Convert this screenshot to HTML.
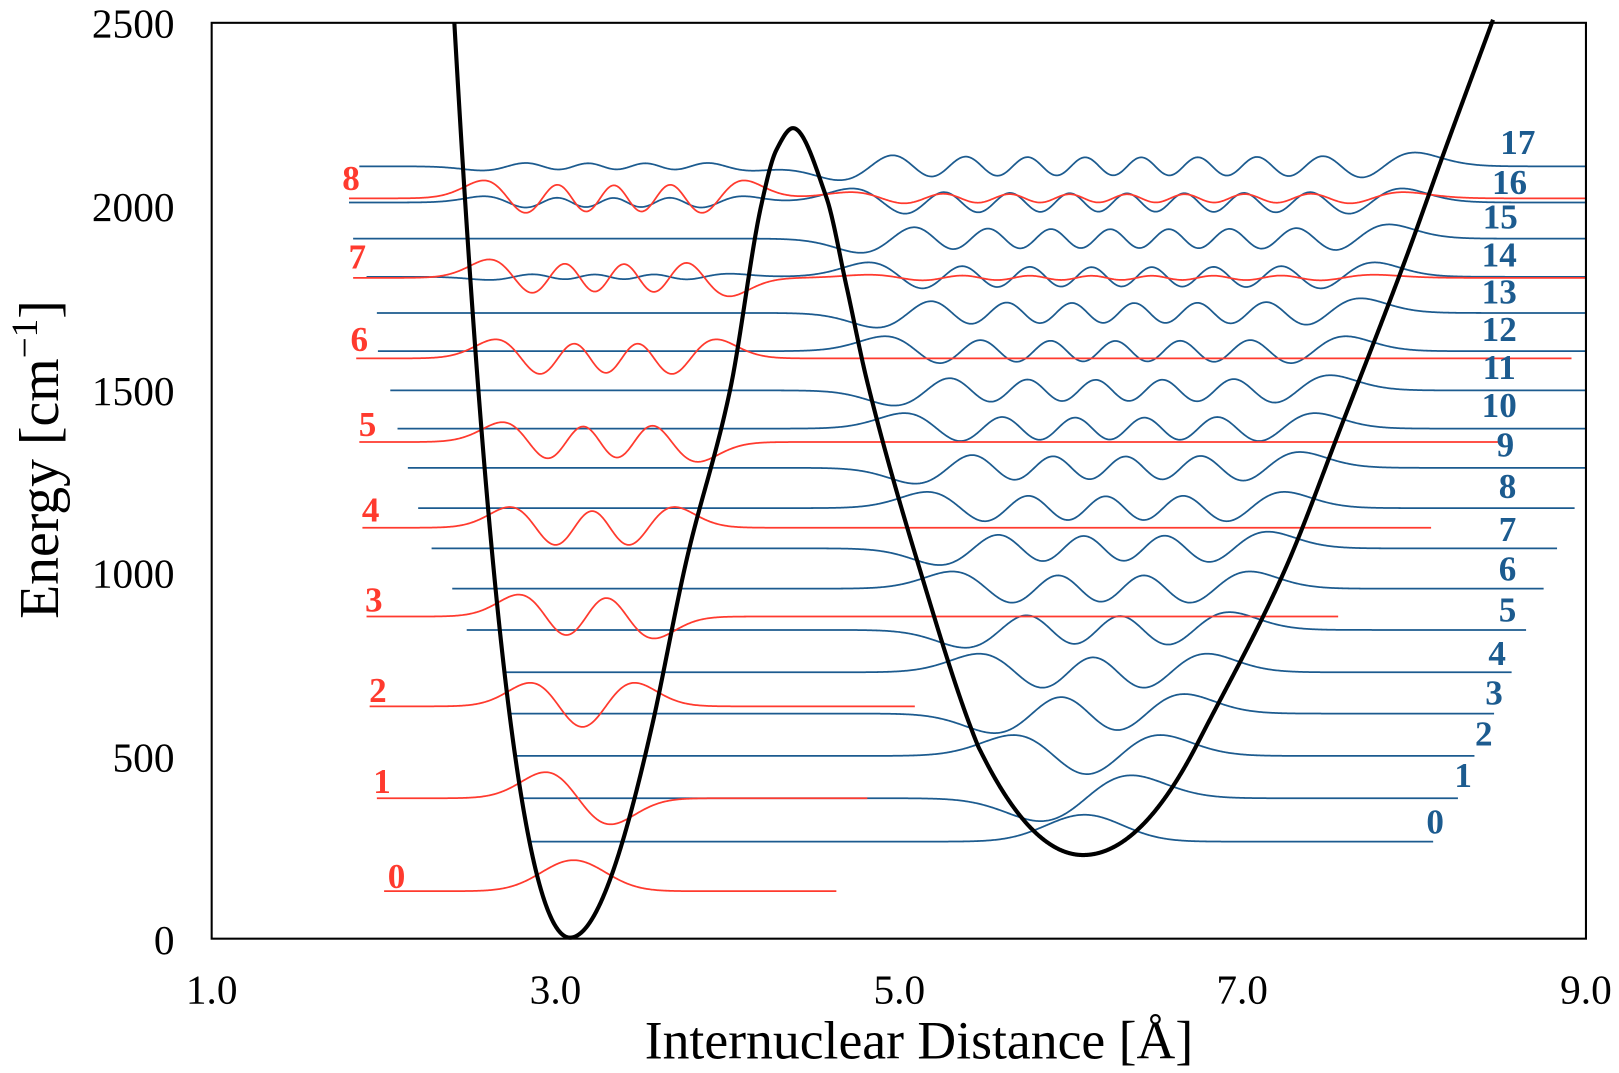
<!DOCTYPE html>
<html><head><meta charset="utf-8"><style>
html,body{margin:0;padding:0;background:#fff;overflow:hidden}
svg{display:block}
text{font-family:"Liberation Serif","DejaVu Serif",serif}
</style></head><body>
<svg id="s" width="1619" height="1073" viewBox="0 0 1568 1039" xmlns="http://www.w3.org/2000/svg">
<rect x="0" y="0" width="1568" height="1039" fill="#fff"/>
<g id="waves"></g>
<path id="pot" fill="none" stroke="#000" stroke-width="4" stroke-linejoin="round"/>
<rect x="205" y="22" width="1331" height="887" fill="none" stroke="#000" stroke-width="2"/>
<g font-size="40" text-anchor="end" fill="#000">
<text x="169" y="36">2500</text><text x="169" y="214">2000</text><text x="169" y="392">1500</text>
<text x="169" y="569">1000</text><text x="169" y="747">500</text><text x="169" y="924">0</text>
</g>
<g font-size="40" text-anchor="middle" fill="#000">
<text x="205" y="972">1.0</text><text x="538" y="972">3.0</text><text x="871" y="972">5.0</text>
<text x="1203" y="972">7.0</text><text x="1536" y="972">9.0</text>
</g>
<text x="890" y="1025" font-size="52" text-anchor="middle">Internuclear Distance [Å]</text>
<text transform="translate(56,445) rotate(-90)" font-size="54" text-anchor="middle">Energy [cm<tspan dy="-20" font-size="36">−1</tspan><tspan dy="20">]</tspan></text>
<g id="labels" font-weight="bold" font-size="34" text-anchor="middle"></g>
</svg>
<script>
const NS="http://www.w3.org/2000/svg";
const b1=[],b2=[],b3=[[768,124],[800,190],[820,278],[840,370],[888,542]],b4=[];
for(let dx=112;dx>=0;dx-=2)b1.push([552-dx,908-(0.055*dx*dx+0.00014*dx*dx*dx)]);
for(let dx=0;dx<=82;dx+=2)b2.push([552+dx,908-(0.042*dx*dx-0.00012*dx*dx*dx)]);
b2.push([665,542],[707,378],[737,200],[752,145],[768,124]);
for(let dx=102;dx>=0;dx-=3)b3.push([1049-dx,828-0.0102*dx*dx]);
for(let dx=0;dx<=111;dx+=3)b4.push([1049+dx,828-0.0088*dx*dx]);
b4.push([1243,555],[1300,410],[1362,249],[1398,149],[1446,19]);
const B=[b1,b2,b3,b4];
const fixStart=[false,true,true,true], fixEnd=[true,true,true,false];
const S=[];
B.forEach((pts,bi)=>{
 const n=pts.length,dl=[];
 for(let k=0;k<n-1;k++)dl.push((pts[k+1][1]-pts[k][1])/(pts[k+1][0]-pts[k][0]));
 const m=[];
 for(let k=0;k<n;k++){
  if(k===0)m.push(fixStart[bi]?0:dl[0]);
  else if(k===n-1)m.push(fixEnd[bi]?0:dl[n-2]);
  else{const a=dl[k-1],b=dl[k];m.push(a*b<=0?0:2/(1/a+1/b));}
 }
 for(let k=0;k<n-1;k++){
  const [x0,y0]=pts[k],[x1,y1]=pts[k+1],h=x1-x0;
  const ns=Math.max(2,Math.ceil(h*2));
  for(let s=0;s<ns;s++){
   const t=s/ns,h00=2*t*t*t-3*t*t+1,h10=t*t*t-2*t*t+t,h01=-2*t*t*t+3*t*t,h11=t*t*t-t*t;
   S.push([x0+t*h,h00*y0+h10*h*m[k]+h01*y1+h11*h*m[k+1]]);
  }
 }
});
S.push([1446,19]);
let d="";S.forEach((p,i)=>{d+=(i?"L":"M")+p[0].toFixed(2)+","+p[1].toFixed(2);});
document.getElementById("pot").setAttribute("d",d);
function cross(y,a,b){
 for(let i=0;i<S.length-1;i++){
  const [x0,y0]=S[i],[x1,y1]=S[i+1];
  if(x0>=a-0.01&&x1<=b+0.01&&(y-y0)*(y-y1)<=0&&y0!==y1){return x0+(y-y0)/(y1-y0)*(x1-x0);}
 }
 return (a+b)/2;
}
function herm(n,xi){
 let p0=Math.pow(Math.PI,-0.25)*Math.exp(-xi*xi/2);
 if(n===0)return p0;
 let p1=Math.SQRT2*xi*p0;
 for(let k=1;k<n;k++){const p2=Math.sqrt(2/(k+1))*xi*p1-Math.sqrt(k/(k+1))*p0;p0=p1;p1=p2;}
 return p1;
}
function comp(n,y,well,amp,sign){
 let x1,x2;
 if(well==="L"){x1=cross(y,430,552);x2=cross(y,552,768);}
 else{x1=cross(y,768,1049);x2=cross(y,1049,1450);}
 const xc=(x1+x2)/2,s=(x2-x1)/(2*Math.sqrt(2*n+1));
 let m=0;for(let xi=-14;xi<=14;xi+=0.01){m=Math.max(m,Math.abs(herm(n,xi)));}
 return x=>{const xi=(x-xc)/s; if(Math.abs(xi)>14)return 0; return sign*amp*herm(n,xi)/m;};
}
const W=document.getElementById("waves"),L=document.getElementById("labels");
function draw(base,xs,xe,comps,color){
 let dd="";
 for(let x=xs;x<=xe;x+=1){let y=base;for(const c of comps)y-=c(x);dd+=(x===xs?"M":"L")+x+","+y.toFixed(2);}
 const p=document.createElementNS(NS,"path");p.setAttribute("d",dd);p.setAttribute("fill","none");
 p.setAttribute("stroke",color);p.setAttribute("stroke-width","1.7");W.appendChild(p);
}
function label(t,x,y,c){const e=document.createElementNS(NS,"text");e.setAttribute("x",x);e.setAttribute("y",y+12);e.setAttribute("fill",c);e.textContent=t;L.appendChild(e);}
const BLUE="#1c5b8f",RED="#ff3a2e";
const bY=[815,773,732,691,651,610,570,531,492,453,415,378,340,303,268,231,196,161];
const bS=[513,505,500,493,487,452,438,418,405,395,385,378,366,365,355,342,338,348];
const bE=[1388,1412,1428,1447,1464,1478,1495,1508,1525,1536,1536,1536,1536,1536,1536,1536,1536,1536];
const bL=[[1390,795],[1417,750],[1437,710],[1447,670],[1450,632],[1460,590],[1460,550],[1460,512],[1460,470],[1458,430],[1452,392],[1452,355],[1452,318],[1452,282],[1452,246],[1453,209],[1462,176],[1470,137]];
for(let n=0;n<18;n++){
 const cs=[comp(n,bY[n],"R",26*Math.pow(n+1,-0.23),1)];
 if(n===14)cs.push(comp(7,bY[n],"L",3,1));
 if(n===16)cs.push(comp(8,bY[n],"L",6,1));
 if(n===17)cs.push(comp(8,bY[n],"L",4,-1));
 draw(bY[n],bS[n],bE[n],cs,BLUE);
 label(String(n),bL[n][0],bL[n][1],BLUE);
}
const rY=[863,773,684,597,511,428,347,269,192];
const rS=[372,365,358,355,351,348,345,342,338];
const rE=[810,840,886,1296,1386,1455,1522,1536,1536];
const rL=[[384,848],[370,756],[366,668],[362,580],[359,493],[356,410],[348,328],[346,248],[340,172]];
for(let n=0;n<9;n++){
 const cs=[comp(n,rY[n],"L",30*Math.pow(n+1,-0.25),n%2?-1:1)];
 if(n===7)cs.push(comp(14,rY[n],"R",3,1));
 if(n===8)cs.push(comp(16,rY[n],"R",6,1));
 draw(rY[n],rS[n],rE[n],cs,RED);
 label(String(n),rL[n][0],rL[n][1],RED);
}
</script>
</body></html>
